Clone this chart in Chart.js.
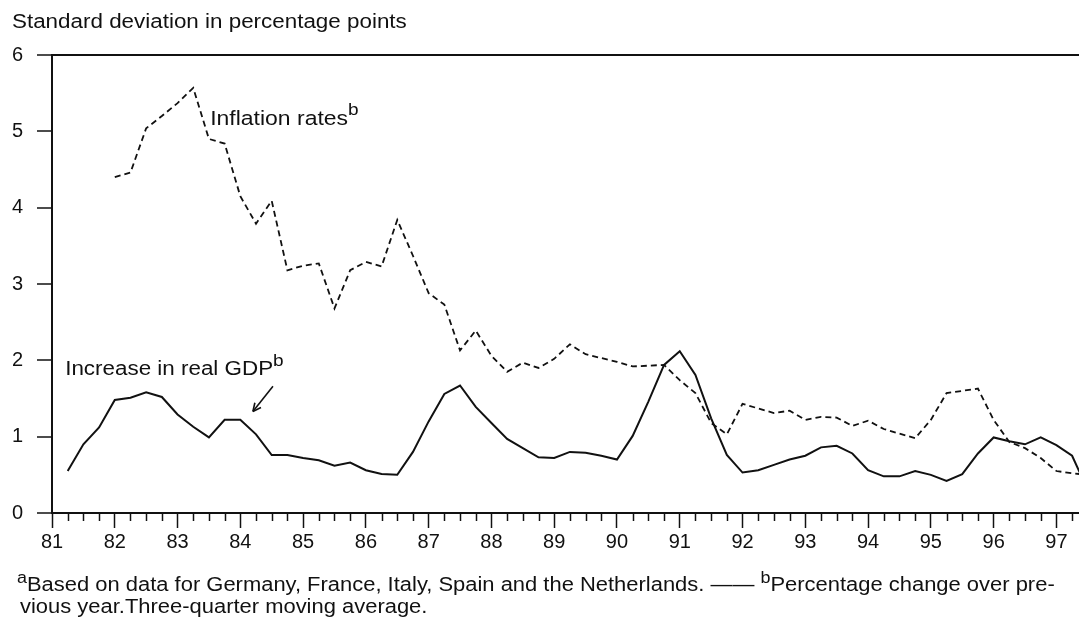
<!DOCTYPE html>
<html>
<head>
<meta charset="utf-8">
<script src="https://cdn.jsdelivr.net/npm/chart.js@4.4.0/dist/chart.umd.min.js"></script>
<style>
    html, body { margin: 0; padding: 0; background: #fff; }
</style>
</head>
<body>
<canvas id="dispersionChart" width="1079" height="623"></canvas>
<script>
// Quarterly observations, 81 = 1981
const quarters = [
    81.25, 81.5, 81.75,
    82, 82.25, 82.5, 82.75, 83, 83.25, 83.5, 83.75,
    84, 84.25, 84.5, 84.75, 85, 85.25, 85.5, 85.75,
    86, 86.25, 86.5, 86.75, 87, 87.25, 87.5, 87.75,
    88, 88.25, 88.5, 88.75, 89, 89.25, 89.5, 89.75,
    90, 90.25, 90.5, 90.75, 91, 91.25, 91.5, 91.75,
    92, 92.25, 92.5, 92.75, 93, 93.25, 93.5, 93.75,
    94, 94.25, 94.5, 94.75, 95, 95.25, 95.5, 95.75,
    96, 96.25, 96.5, 96.75, 97, 97.25, 97.5
];

// Increase in real GDP (standard deviation, pp)
const gdpValues = [
    0.55, 0.90, 1.12,
    1.48, 1.51, 1.58, 1.52, 1.29, 1.13, 0.99, 1.22,
    1.22, 1.03, 0.76, 0.76, 0.72, 0.69, 0.62, 0.66,
    0.56, 0.51, 0.50, 0.80, 1.20, 1.56, 1.67, 1.39,
    1.18, 0.97, 0.85, 0.73, 0.72, 0.80, 0.79, 0.75,
    0.70, 1.01, 1.46, 1.94, 2.12, 1.81, 1.24, 0.76,
    0.53, 0.56, 0.63, 0.70, 0.75, 0.86, 0.88, 0.78,
    0.56, 0.48, 0.48, 0.55, 0.50, 0.42, 0.51, 0.78,
    0.99, 0.94, 0.90, 0.99, 0.89, 0.75, 0.30
];

// Inflation rates (standard deviation, pp) - series starts in 82
const inflationValues = [
    null, null, null,
    4.40, 4.46, 5.04, 5.20, 5.37, 5.57, 4.90, 4.84,
    4.15, 3.79, 4.09, 3.18, 3.24, 3.27, 2.68, 3.18,
    3.29, 3.23, 3.84, 3.37, 2.88, 2.73, 2.13, 2.39,
    2.06, 1.85, 1.97, 1.90, 2.02, 2.21, 2.08, 2.03,
    1.98, 1.92, 1.93, 1.94, 1.74, 1.57, 1.18, 1.03,
    1.43, 1.37, 1.31, 1.34, 1.22, 1.26, 1.25, 1.14,
    1.21, 1.10, 1.04, 0.98, 1.22, 1.57, 1.60, 1.63,
    1.22, 0.93, 0.85, 0.72, 0.55, 0.52, 0.50
];

const yearTicks = [81, 82, 83, 84, 85, 86, 87, 88, 89, 90, 91, 92, 93, 94, 95, 96, 97];
const valueTicks = [0, 1, 2, 3, 4, 5, 6];

const FONT = "'Liberation Sans', Arial, Helvetica, sans-serif";
const INK = '#111';
const STRETCH = 1.12;

// draw a run of text pieces (with optional superscripts), slightly widened like the print
function drawRich(ctx, parts, x, y) {
    let cx = x;
    parts.forEach(p => {
        ctx.font = p.size + 'px ' + FONT;
        ctx.save();
        ctx.translate(cx, y - (p.rise || 0));
        ctx.scale(STRETCH, 1);
        ctx.fillText(p.text, 0, 0);
        ctx.restore();
        cx += ctx.measureText(p.text).width * STRETCH;
    });
}

const chartText = {
    id: 'chartText',
    afterDraw(chart) {
        const { ctx, scales: { x, y }, chartArea } = chart;
        ctx.save();
        ctx.fillStyle = INK;
        ctx.strokeStyle = INK;
        ctx.textBaseline = 'alphabetic';

        // quarter tick marks on the time axis
        ctx.lineWidth = 1.5;
        quarters.forEach(q => {
            if (Number.isInteger(q) || q > x.max) return;
            const px = Math.round(x.getPixelForValue(q)) + 0.5;
            ctx.beginPath();
            ctx.moveTo(px, chartArea.bottom);
            ctx.lineTo(px, chartArea.bottom + 8);
            ctx.stroke();
        });

        // title
        drawRich(ctx, [{ text: 'Standard deviation in percentage points', size: 20 }], 12, 28);

        // series labels
        drawRich(ctx, [
            { text: 'Inflation rates', size: 20.5 },
            { text: 'b', size: 17, rise: 10 }
        ], x.getPixelForValue(83.52), y.getPixelForValue(5.08));

        drawRich(ctx, [
            { text: 'Increase in real GDP', size: 20 },
            { text: 'b', size: 17, rise: 9 }
        ], x.getPixelForValue(81.21), y.getPixelForValue(1.81));

        // arrow to the GDP line
        const ax1 = x.getPixelForValue(84.52), ay1 = y.getPixelForValue(1.66);
        const ax2 = x.getPixelForValue(84.20), ay2 = y.getPixelForValue(1.33);
        const ang = Math.atan2(ay2 - ay1, ax2 - ax1);
        ctx.lineWidth = 1.6;
        ctx.beginPath();
        ctx.moveTo(ax1, ay1);
        ctx.lineTo(ax2, ay2);
        ctx.stroke();
        ctx.beginPath();
        ctx.moveTo(ax2, ay2);
        ctx.lineTo(ax2 - 9 * Math.cos(ang - 0.45), ay2 - 9 * Math.sin(ang - 0.45));
        ctx.moveTo(ax2, ay2);
        ctx.lineTo(ax2 - 9 * Math.cos(ang + 0.45), ay2 - 9 * Math.sin(ang + 0.45));
        ctx.stroke();

        // footnotes
        drawRich(ctx, [
            { text: 'a', size: 16, rise: 8 },
            { text: 'Based on data for Germany, France, Italy, Spain and the Netherlands. \u2014\u2014 ', size: 19.6 },
            { text: 'b', size: 16, rise: 8 },
            { text: 'Percentage change over pre-', size: 19.6 }
        ], 17, 591);
        drawRich(ctx, [{ text: 'vious year.Three-quarter moving average.', size: 19.6 }], 20, 613);

        ctx.restore();
    }
};

const ctx = document.getElementById('dispersionChart');
new Chart(ctx, {
    type: 'line',
    data: {
        datasets: [{
            label: 'Inflation rates',
            data: quarters.map((q, i) => ({ x: q, y: inflationValues[i] })),
            borderColor: INK,
            borderWidth: 1.8,
            borderDash: [6, 4],
            pointRadius: 0,
            tension: 0,
            spanGaps: false
        }, {
            label: 'Increase in real GDP',
            data: quarters.map((q, i) => ({ x: q, y: gdpValues[i] })),
            borderColor: INK,
            borderWidth: 2,
            pointRadius: 0,
            tension: 0
        }]
    },
    options: {
        responsive: false,
        animation: false,
        layout: {
            padding: { left: 10, right: 0, top: 55, bottom: 66 }
        },
        plugins: {
            legend: { display: false },
            tooltip: { enabled: false },
            title: { display: false }
        },
        scales: {
            x: {
                type: 'linear',
                min: 81,
                max: 97.36,
                afterBuildTicks: s => { s.ticks = yearTicks.map(v => ({ value: v })); },
                afterFit: s => { s.height = 44; },
                ticks: {
                    color: INK,
                    padding: 2,
                    maxRotation: 0,
                    autoSkip: false,
                    font: { family: FONT, size: 20 },
                    callback: v => String(v)
                },
                grid: {
                    drawOnChartArea: false,
                    drawTicks: true,
                    tickLength: 15,
                    tickColor: INK,
                    tickWidth: 1.5
                },
                border: { display: true, color: INK, width: 2 }
            },
            y: {
                min: 0,
                max: 6,
                afterBuildTicks: s => { s.ticks = valueTicks.map(v => ({ value: v })); },
                afterFit: s => { s.width = 42; },
                ticks: {
                    color: INK,
                    padding: 14,
                    font: { family: FONT, size: 20 }
                },
                grid: {
                    color: c => (c.tick && c.tick.value === 6) ? INK : 'rgba(0,0,0,0)',
                    lineWidth: 2,
                    tickColor: INK,
                    tickLength: 15,
                    tickWidth: 1.5
                },
                border: { display: true, color: INK, width: 2 }
            }
        }
    },
    plugins: [chartText]
});
</script>
</body>
</html>
